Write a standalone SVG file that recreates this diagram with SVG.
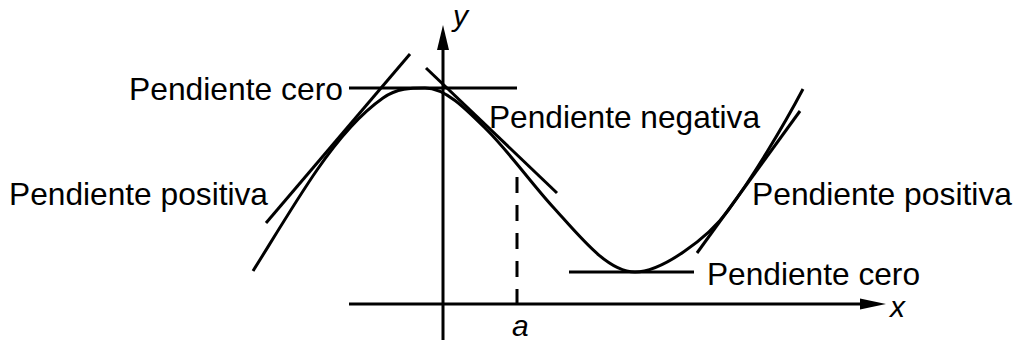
<svg xmlns="http://www.w3.org/2000/svg" width="1017" height="340" viewBox="0 0 1017 340">
<style>
.ln{stroke:#000;stroke-width:3;fill:none;stroke-linecap:butt}
.lbl{font-family:"Liberation Sans",Arial,sans-serif;font-size:31.5px;fill:#000}
.var{font-family:"Liberation Sans",Arial,sans-serif;font-size:30px;font-style:italic;fill:#000}
</style>
<rect width="1017" height="340" fill="#fff"/>
<g id="axes">
<line class="ln" x1="443" y1="48" x2="443" y2="340"/>
<polygon points="443,25 437,50 449,50" fill="#000"/>
<line class="ln" x1="349" y1="304" x2="862" y2="304"/>
<polygon points="886,304 860,298.5 860,309.5" fill="#000"/>
<line class="ln" x1="517" y1="177" x2="517" y2="305" stroke-dasharray="16 12"/>
</g>
<g id="curve">
<path class="ln" d="M253,271 C274.3,236.9 295.7,200.9 317,170 C339,138.1 361,113.4 383,98 C397,88.2 411,88 425,88 C445.7,88 466.3,109.3 487,130 C509,152 531,182.8 553,207 C580.3,237.1 607.7,272 635,272 C662,272 708,237.9 728,210.6 C753,176.5 783,127 803,89"/>
</g>
<g id="tangents">
<line class="ln" x1="349" y1="88" x2="517" y2="88"/>
<line class="ln" x1="410" y1="54" x2="266" y2="223"/>
<line class="ln" x1="426" y1="68" x2="557" y2="193"/>
<line class="ln" x1="569" y1="272" x2="694" y2="272"/>
<line class="ln" x1="697" y1="253" x2="800" y2="111"/>
</g>
<g id="labels">
<text class="lbl" x="129" y="100" textLength="214" lengthAdjust="spacingAndGlyphs">Pendiente cero</text>
<text class="lbl" x="489" y="128" textLength="271" lengthAdjust="spacingAndGlyphs">Pendiente negativa</text>
<text class="lbl" x="9" y="205" textLength="259" lengthAdjust="spacingAndGlyphs">Pendiente positiva</text>
<text class="lbl" x="752" y="205" textLength="260" lengthAdjust="spacingAndGlyphs">Pendiente positiva</text>
<text class="lbl" x="707" y="285" textLength="213" lengthAdjust="spacingAndGlyphs">Pendiente cero</text>
<text class="var" x="453" y="26">y</text>
<text class="var" x="890" y="317">x</text>
<text class="var" x="512" y="336">a</text>
</g>
</svg>
